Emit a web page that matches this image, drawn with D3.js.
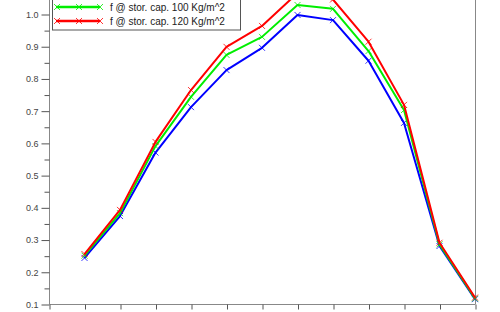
<!DOCTYPE html>
<html>
<head>
<meta charset="utf-8">
<script src="https://cdn.jsdelivr.net/npm/d3@7"></script>
<style>
  body { margin: 0; background: #fff; }
  svg { display: block; font-family: "Liberation Sans", Arial, sans-serif; }
</style>
</head>
<body>
<div id="chart-area"></div>
<script>
// datos (eje x = mes 1..12)
var months = [1, 2, 3, 4, 5, 6, 7, 8, 9, 10, 11, 12];
var blueVals  = [0.243, 0.373, 0.570, 0.711, 0.826, 0.895, 0.997, 0.981, 0.855, 0.662, 0.280, 0.115];
var greenVals = [0.250, 0.382, 0.590, 0.743, 0.873, 0.929, 1.028, 1.016, 0.885, 0.702, 0.285, 0.117];
var redVals   = [0.255, 0.392, 0.603, 0.764, 0.898, 0.963, 1.065, 1.045, 0.914, 0.718, 0.290, 0.120];
var yTicks = [0.1, 0.2, 0.3, 0.4, 0.5, 0.6, 0.7, 0.8, 0.9, 1.0];
var yMinor = [0.15, 0.25, 0.35, 0.45, 0.55, 0.65, 0.75, 0.85, 0.95];
var legendLabels = ["f @ stor. cap. 100 Kg/m^2", "f @ stor. cap. 120 Kg/m^2"];

var width = 500, height = 312;
var axisColor = "#888";

var svg = d3.select("#chart-area").append("svg")
    .attr("width", width)
    .attr("height", height);

var x = d3.scaleLinear().domain([0, 12]).range([49, 475]);
var y = d3.scaleLinear().domain([0.1, 1.0]).range([304, 14]);

// marco (arriba queda fuera de la imagen)
svg.append("line")
    .attr("x1", x(12) + 0.5).attr("x2", x(12) + 0.5)
    .attr("y1", -20).attr("y2", y(0.1))
    .attr("stroke", axisColor).attr("stroke-width", 1);

// eje Y
var yAxis = svg.append("g")
    .attr("transform", "translate(" + (x(0) + 0.5) + ",0.5)")
    .call(d3.axisLeft(y).tickValues(yTicks).tickSize(8).tickPadding(3)
        .tickFormat(d3.format(".1f")));
yAxis.select(".domain").attr("stroke", axisColor).attr("d", "M0,-20V" + y(0.1));
yAxis.selectAll(".tick line").attr("stroke", "#555");
yAxis.selectAll(".tick text").attr("fill", "#444").attr("font-size", "9px")
    .attr("font-family", "Liberation Sans, Arial, sans-serif");

var yAxisMinor = svg.append("g")
    .attr("transform", "translate(" + (x(0) + 0.5) + ",0.5)")
    .call(d3.axisLeft(y).tickValues(yMinor).tickSize(5).tickFormat(""));
yAxisMinor.select(".domain").remove();
yAxisMinor.selectAll(".tick line").attr("stroke", "#555");

// eje X (sin etiquetas visibles)
var xAxis = svg.append("g")
    .attr("transform", "translate(0.5," + (y(0.1) + 0.5) + ")")
    .call(d3.axisBottom(x).tickValues(d3.range(0, 13)).tickSize(5).tickFormat(""));
xAxis.select(".domain").attr("stroke", axisColor).attr("d", "M" + x(0) + ",0H" + x(12));
xAxis.selectAll(".tick line").attr("stroke", "#555");

// series
var series = [
    { vals: blueVals, color: "#0000ff", w: 2 },
    { vals: greenVals, color: "#00ee00", w: 2 },
    { vals: redVals, color: "#ff0000", w: 2 }
];

var line = d3.line()
    .x(function(d, i) { return x(months[i]); })
    .y(function(d) { return y(d); });

function drawCross(g, cx, cy, color, s) {
    g.append("path")
        .attr("d", "M" + (cx - s) + "," + (cy - s) + "L" + (cx + s) + "," + (cy + s) +
                   "M" + (cx - s) + "," + (cy + s) + "L" + (cx + s) + "," + (cy - s))
        .attr("stroke", color).attr("stroke-width", 0.8).attr("fill", "none");
}

series.forEach(function(s) {
    var g = svg.append("g");
    g.append("path")
        .datum(s.vals)
        .attr("d", line)
        .attr("fill", "none")
        .attr("stroke", s.color)
        .attr("stroke-width", s.w)
        .attr("stroke-linejoin", "round");
    s.vals.forEach(function(v, i) {
        drawCross(g, x(months[i]), y(v), s.color, 3);
    });
});

// leyenda (la primera entrada queda cortada arriba)
var legend = svg.append("g");
legend.append("rect")
    .attr("x", 52.5).attr("y", -20)
    .attr("width", 188).attr("height", 50)
    .attr("fill", "#fff").attr("stroke", "#555").attr("stroke-width", 1);

var legendColors = ["#00ee00", "#ff0000"];
var legendY = [7, 21];
legendLabels.forEach(function(lbl, i) {
    legend.append("line")
        .attr("x1", 56).attr("x2", 100)
        .attr("y1", legendY[i]).attr("y2", legendY[i])
        .attr("stroke", legendColors[i]).attr("stroke-width", 2.5);
    [57, 79, 100].forEach(function(cx) {
        drawCross(legend, cx, legendY[i], legendColors[i], 3);
    });
    legend.append("text")
        .attr("x", 110).attr("y", legendY[i] + 3.5)
        .attr("font-size", "10px")
        .attr("fill", "#222")
        .text(lbl);
});
</script>
</body>
</html>
